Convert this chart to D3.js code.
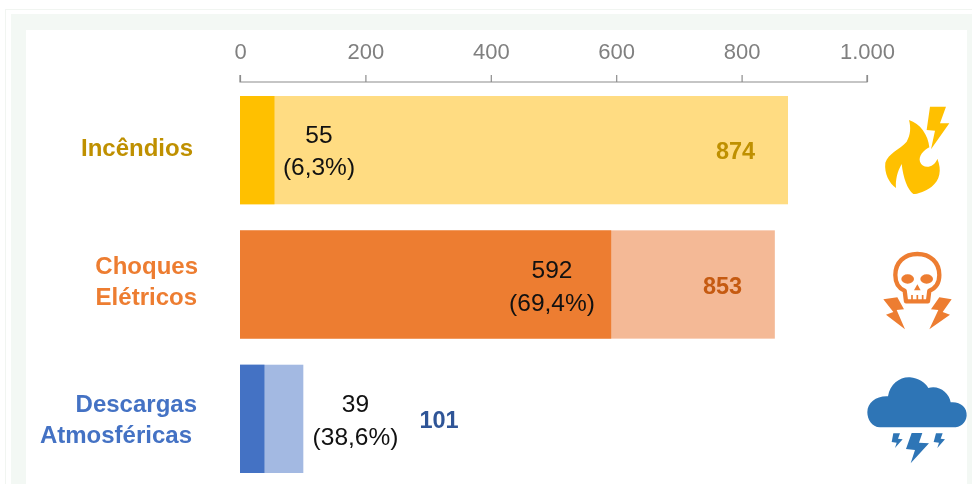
<!DOCTYPE html>
<html><head><meta charset="utf-8">
<script src="https://cdn.jsdelivr.net/npm/d3@7/dist/d3.min.js"></script>
<style>html,body{margin:0;padding:0;background:#fff}svg{display:block;font-family:"Liberation Sans",Arial,sans-serif;filter:blur(.45px)}</style>
</head><body>
<svg id="c" width="972" height="484"></svg>
<script>
const categories = [["Incêndios"], ["Choques","Elétricos"], ["Descargas","Atmosféricas"]];
const totals = [874, 853, 101];
const deaths = [55, 592, 39];
const percents = ["(6,3%)", "(69,4%)", "(38,6%)"];
const tickValues = [0, 200, 400, 600, 800, 1000];
const tickLabels = ["0", "200", "400", "600", "800", "1.000"];
const lightColors = ["#FFDC82", "#F4B996", "#A3B9E2"];
const darkColors = ["#FFC000", "#ED7D31", "#4472C4"];
const labelColors = ["#BF9000", "#ED7D31", "#4472C4"];
const totalColors = ["#BF9000", "#C55A11", "#2F5597"];

const svg = d3.select("#c");
const x = d3.scaleLinear().domain([0, 1000]).range([240, 867]);
const y = d3.scaleBand().domain(d3.range(3)).range([96, 473]).paddingInner(26/134).paddingOuter(0);

// frame
svg.append("rect").attr("x",5.5).attr("y",9.5).attr("width",980).attr("height",500).attr("fill","none").attr("stroke","#f1f5f1");
svg.append("rect").attr("x",11).attr("y",14).attr("width",961).attr("height",470).attr("fill","#f3f8f4");
svg.append("rect").attr("x",26).attr("y",30).attr("width",941).attr("height",454).attr("fill","#fff");

// axis
const axis = d3.axisTop(x).tickValues(tickValues).tickFormat((d,i)=>tickLabels[i]).tickSize(7).tickSizeOuter(0).tickPadding(16);
const ag = svg.append("g").attr("transform","translate(0,82)").call(axis);
ag.selectAll("path,line").attr("stroke","#8c8c8c").attr("stroke-width",1.2);
ag.select("path").attr("d",`M${x(0)},75V82H${x(1000)}V75`).attr("transform","translate(0,-82)").attr("fill","none");
ag.selectAll("text").attr("font-size",22).attr("fill","#808080").attr("font-family","Liberation Sans");

// bars
const rows = svg.append("g").selectAll("g").data(d3.range(3)).join("g");
rows.append("rect").attr("x",x(0)).attr("y",i=>y(i)).attr("width",i=>x(totals[i])-x(0)).attr("height",y.bandwidth()).attr("fill",i=>lightColors[i]);
rows.append("rect").attr("x",x(0)).attr("y",i=>y(i)).attr("width",i=>x(deaths[i])-x(0)).attr("height",y.bandwidth()).attr("fill",i=>darkColors[i]);

// category labels (layout offsets per line)
const labelRight = [[193], [198,197], [197,192]];
const labelOffset = [[6], [-10.5,20.5], [-6.5,24.5]];
rows.each(function(i){
  const g = d3.select(this), cy = y(i)+y.bandwidth()/2;
  categories[i].forEach((t,k)=>{
    g.append("text").attr("x",labelRight[i][k]).attr("y",cy+labelOffset[i][k])
     .attr("text-anchor","end").attr("font-size",24).attr("font-weight","bold").attr("fill",labelColors[i]).text(t);
  });
});

// value labels
const valueX = [319, 552, 355.5];
const valueOffset = [-7, -7, -6.5];
const pctOffset = [25, 26, 26];
rows.append("text").attr("x",i=>valueX[i]).attr("y",i=>y(i)+y.bandwidth()/2+valueOffset[i]).attr("text-anchor","middle").attr("font-size",24.5).attr("fill","#111").text(i=>deaths[i]);
rows.append("text").attr("x",i=>valueX[i]).attr("y",i=>y(i)+y.bandwidth()/2+pctOffset[i]).attr("text-anchor","middle").attr("font-size",24.5).attr("fill","#111").text(i=>percents[i]);
const totalX = [735.5, 722.5, 439];
const totalOffset = [9, 9.5, 9.5];
rows.append("text").attr("x",i=>totalX[i]).attr("y",i=>y(i)+y.bandwidth()/2+totalOffset[i]).attr("text-anchor","middle").attr("font-size",23.5).attr("font-weight","bold").attr("fill",i=>totalColors[i]).text(i=>totals[i]);

// icons (drawn in 3x crop coordinates)
const flame = svg.append("g").attr("transform","translate(860,90) scale(.3333)").attr("fill","#FFC000");
flame.append("path").attr("d","M147,90C180,100 205,135 208,172C190,182 175,198 180,215C188,238 222,235 232,206C246,240 240,270 215,290C195,305 172,312 160,312C142,298 130,265 125,222C112,245 106,270 108,294C88,280 72,250 76,218C85,190 120,178 140,155C152,135 153,112 147,90Z");
flame.append("path").attr("d","M210,50L258,50L240,100L268,100L213,178L225,122L200,120Z");

const skull = svg.append("g").attr("transform","translate(860,240) scale(.3333)").attr("fill","#ED7D31");
skull.append("path").attr("d","M172,42C212,42 238,68 238,105C238,128 226,145 208,152L204,184L138,184L134,152C116,145 106,128 106,105C106,68 132,42 172,42Z").attr("fill","#fff").attr("stroke","#ED7D31").attr("stroke-width",13).attr("stroke-linejoin","round");
skull.append("ellipse").attr("cx",143).attr("cy",117).attr("rx",19).attr("ry",14);
skull.append("ellipse").attr("cx",200).attr("cy",117).attr("rx",19).attr("ry",14);
skull.append("path").attr("d","M172,133L182,151L162,151Z");
skull.append("path").attr("d","M156,165V184M172,165V184M188,165V184").attr("stroke","#ED7D31").attr("stroke-width",5).attr("fill","none");
skull.append("path").attr("d","M70,178L112,172L132,208L110,210L135,268L78,224L100,216Z");
skull.append("path").attr("d","M275,178L238,172L213,208L235,210L208,268L270,224L248,216Z");

const cloud = svg.append("g").attr("transform","translate(860,364) scale(.3333)").attr("fill","#2E75B6");
cloud.append("path").attr("d","M60,190C35,190 22,165 22,145C22,115 50,95 84,97C90,60 120,38 150,40C175,42 195,55 205,72C235,62 268,85 272,115C300,112 322,130 320,155C318,178 300,190 280,190Z");
cloud.append("path").attr("d","M155,207L187,207L177,236L207,238L152,298L165,258L138,255Z");
cloud.append("path").attr("d","M100,208L120,208L114,224L128,226L105,252L110,236L95,234Z");
cloud.append("path").attr("d","M228,208L248,208L242,224L255,226L232,252L237,236L221,234Z");
</script>
</body></html>
